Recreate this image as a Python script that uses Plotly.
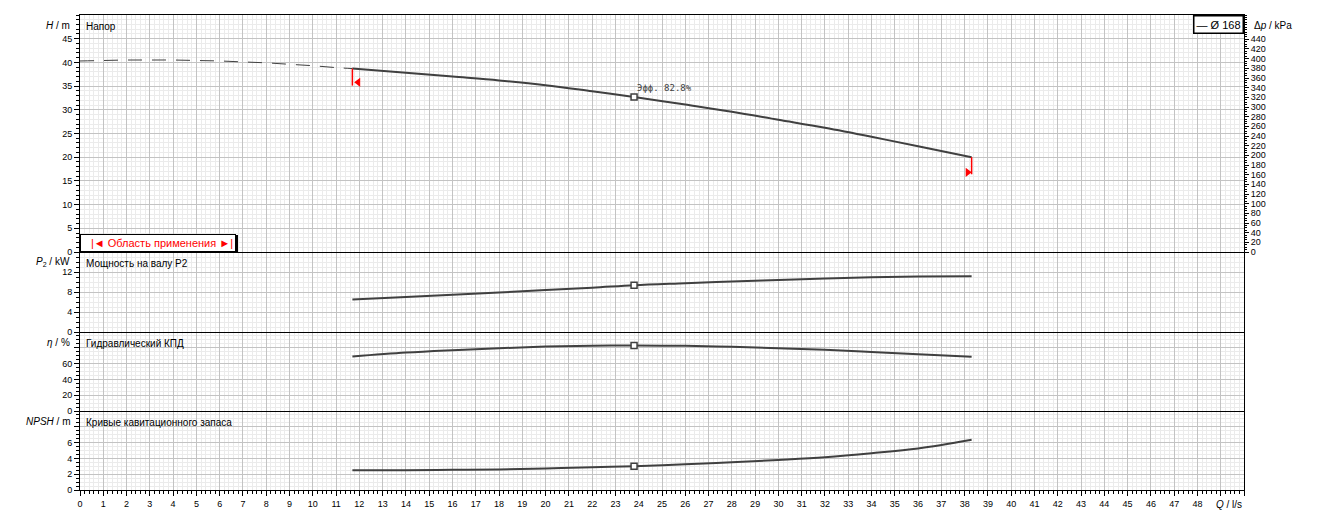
import plotly.graph_objects as go
from plotly.subplots import make_subplots

# ---------------- data ----------------
q_dash = [0, 1, 2, 3, 4, 5, 6, 7, 8, 9, 10, 11, 11.7]
h_dash = [40.3, 40.4, 40.5, 40.5, 40.5, 40.4, 40.3, 40.1, 39.9, 39.6, 39.3, 38.9, 38.7]

q = [11.7, 14, 16, 18, 20, 22, 23.8, 26, 28, 30, 32, 34, 36, 38.3]
h = [38.7, 37.8, 37.0, 36.2, 35.2, 33.9, 32.7, 31.1, 29.6, 27.9, 26.2, 24.3, 22.3, 20.0]
p2 = [6.5, 7.0, 7.45, 7.9, 8.4, 8.85, 9.35, 9.75, 10.1, 10.4, 10.7, 10.95, 11.1, 11.15]
eta = [69, 74, 77, 79.5, 81.5, 82.6, 82.8, 82.5, 81.2, 79.5, 77.5, 74.8, 71.9, 68.8]
npsh = [2.5, 2.5, 2.55, 2.6, 2.72, 2.88, 3.0, 3.25, 3.5, 3.8, 4.15, 4.65, 5.25, 6.35]
bep_index = 6          # Q = 23.8 l/s, efficiency 82.8 %
bep_eff_text = "Эфф. 82.8%"

x_ticks = list(range(0, 51))
x_ticktext = [str(v) for v in range(0, 49)] + ["", ""]
h_ticks = list(range(0, 50, 5))
p_ticks = [0, 4, 8, 12, 16]
p_ticktext = ["0", "4", "8", "12", ""]
eta_ticks = [0, 20, 40, 60, 80, 100]
eta_ticktext = ["0", "20", "40", "60", "", ""]
npsh_ticks = [0, 2, 4, 6, 8, 10]
npsh_ticktext = ["0", "2", "4", "6", "", ""]
dp_ticks = list(range(0, 441, 20))
kpa_per_m = 9.80665

panel_titles = ["Напор", "Мощность на валу P2", "Гидравлический КПД", "Кривые кавитационного запаса"]
legend_text = "— Ø 168"
range_text = "|◄ Область применения ►|"

# ---------------- style ----------------
CURVE = "#404040"
MAJ = "#c3c3c3"
MIN = "#ebebeb"
FONT = "Liberation Sans, Arial, sans-serif"
TICKFONT = dict(family=FONT, size=9, color="black")

fig = make_subplots(rows=4, cols=1, shared_xaxes=True, vertical_spacing=0,
                    row_heights=[237, 80, 79, 79],
                    specs=[[{"secondary_y": True}], [{}], [{}], [{}]])

# H dashed + solid
fig.add_trace(go.Scatter(x=q_dash, y=h_dash, mode="lines",
                         line=dict(color=CURVE, width=1, dash="14px,10px", shape="spline"),
                         hoverinfo="skip", showlegend=False), row=1, col=1)
fig.add_trace(go.Scatter(x=[], y=[], showlegend=False, hoverinfo="skip"),
              row=1, col=1, secondary_y=True)

series = [h, p2, eta, npsh]
rows = [1, 2, 3, 4]
for s, r in zip(series, rows):
    fig.add_trace(go.Scatter(x=q, y=s, mode="lines",
                             line=dict(color=CURVE, width=2, shape="spline", smoothing=1),
                             hoverinfo="skip", showlegend=False), row=r, col=1)
    fig.add_trace(go.Scatter(x=[q[bep_index]], y=[s[bep_index]], mode="markers",
                             marker=dict(symbol="square", size=6, color="white",
                                         line=dict(color=CURVE, width=1.5)),
                             hoverinfo="skip", showlegend=False), row=r, col=1)

# red application range limits
mark_len = 3.6
fig.add_trace(go.Scatter(x=[q[0], q[0]], y=[h[0], h[0] - mark_len], mode="lines",
                         line=dict(color="red", width=1.5), hoverinfo="skip",
                         showlegend=False), row=1, col=1)
fig.add_trace(go.Scatter(x=[q[-1], q[-1]], y=[h[-1], h[-1] - mark_len], mode="lines",
                         line=dict(color="red", width=1.5), hoverinfo="skip",
                         showlegend=False), row=1, col=1)
fig.add_trace(go.Scatter(x=[q[0] + 0.25], y=[h[0] - 2.9], mode="markers",
                         marker=dict(symbol="triangle-left", size=8, color="red"),
                         hoverinfo="skip", showlegend=False), row=1, col=1)
fig.add_trace(go.Scatter(x=[q[-1] - 0.17], y=[h[-1] - 3.2], mode="markers",
                         marker=dict(symbol="triangle-right", size=8, color="red"),
                         hoverinfo="skip", showlegend=False), row=1, col=1)

# ---------------- axes ----------------
for i in range(1, 5):
    xa = dict(domain=[0, 1], range=[0, 50], tickmode="array", tickvals=x_ticks,
              ticktext=x_ticktext, showgrid=True, gridcolor=MAJ, gridwidth=1,
              zeroline=False,
              minor=dict(dtick=0.2, tick0=0, showgrid=True, gridcolor=MIN, gridwidth=1),
              showline=True, linecolor="black", linewidth=1, mirror=(i == 1))
    if i == 4:
        xa.update(ticks="outside", ticklen=5, tickcolor="black", tickfont=TICKFONT,
                  showticklabels=True)
        xa["minor"].update(ticks="outside", ticklen=3, tickcolor="black")
    else:
        xa.update(ticks="", showticklabels=False)
        xa["minor"].update(ticks="")
    fig.update_xaxes(row=i, col=1, **xa)

def yaxis(rng, tv, tt, mdt):
    return dict(range=rng, tickmode="array", tickvals=tv, ticktext=tt,
                showgrid=True, gridcolor=MAJ, gridwidth=1, zeroline=False,
                ticks="outside", ticklen=5, tickcolor="black", tickfont=TICKFONT,
                minor=dict(dtick=mdt, tick0=0, showgrid=True, gridcolor=MIN, gridwidth=1,
                           ticks="outside", ticklen=3, tickcolor="black"),
                showline=True, linecolor="black", linewidth=1, mirror=True)

fig.update_yaxes(row=1, col=1, secondary_y=False,
                 **yaxis([0, 50], h_ticks, [str(v) for v in h_ticks], 1))
fig.update_yaxes(row=2, col=1, **yaxis([0, 16], p_ticks, p_ticktext, 1))
fig.update_yaxes(row=3, col=1, **yaxis([0, 100], eta_ticks, eta_ticktext, 5))
fig.update_yaxes(row=4, col=1, **yaxis([0, 10], npsh_ticks, npsh_ticktext, 0.5))
fig.update_yaxes(row=1, col=1, secondary_y=True,
                 range=[0, 50 * kpa_per_m], tickmode="array", tickvals=dp_ticks,
                 ticktext=[str(v) for v in dp_ticks], showgrid=False, zeroline=False,
                 ticks="outside", ticklen=4, tickcolor="black", tickfont=TICKFONT,
                 minor=dict(dtick=5, tick0=0, ticks="outside", ticklen=2,
                            tickcolor="black", showgrid=False),
                 showline=True, linecolor="black", linewidth=1)

# solid black panel separators (drawn on top of the grids, pixel aligned)
shapes = []
for d in ["y3", "y4", "y5"]:
    shapes.append(dict(type="line", xref="paper", x0=0, x1=1, yref=d + " domain",
                       ysizemode="pixel", yanchor=1, y0=-0.5, y1=-0.5,
                       line=dict(color="black", width=1), layer="above"))

# ---------------- annotations ----------------
ann = []
doms = ["y", "y3", "y4", "y5"]
for t, d in zip(panel_titles, doms):
    ann.append(dict(text=t, xref="paper", x=0, xanchor="left", xshift=4,
                    yref=d + " domain", y=1, yanchor="top", yshift=-4,
                    showarrow=False, font=dict(family=FONT, size=10, color="black")))

axis_titles = ["<i>H</i> / m", "<i>P</i><sub>2</sub> / kW", "<i>η</i> / %", "<i>NPSH</i> / m"]
for t, d in zip(axis_titles, doms):
    ann.append(dict(text=t, xref="paper", x=0, xanchor="right", xshift=-8,
                    yref=d + " domain", y=1, yanchor="middle", yshift=-10,
                    showarrow=False, font=dict(family=FONT, size=10, color="black")))

ann.append(dict(text="Δ<i>p</i> / kPa", xref="paper", x=1, xanchor="left", xshift=8,
                yref="y domain", y=1, yanchor="middle", yshift=-10, showarrow=False,
                font=dict(family=FONT, size=10, color="black")))
ann.append(dict(text="<i>Q</i> / l/s", xref="paper", x=1, xanchor="right", xshift=0,
                yref="y5 domain", y=0, yanchor="middle", yshift=-14, showarrow=False,
                font=dict(family=FONT, size=10, color="black")))

ann.append(dict(text=bep_eff_text, xref="x", x=q[bep_index], xanchor="left", xshift=1,
                yref="y", y=h[bep_index], yanchor="bottom", yshift=2, showarrow=False,
                font=dict(family="DejaVu Sans Mono, monospace", size=9, color=CURVE)))

# legend box
ann.append(dict(text=legend_text, xref="paper", x=1, xanchor="right",
                yref="y domain", y=1, yanchor="top", showarrow=False,
                bgcolor="white", bordercolor="black", borderwidth=1.5, borderpad=2,
                font=dict(family=FONT, size=11, color="black")))

# application range box (shadow + box)
ann.append(dict(text=range_text, xref="paper", x=0, xanchor="left", xshift=2,
                yref="y domain", y=0, yanchor="bottom", yshift=-1, showarrow=False,
                bgcolor="black", bordercolor="black", borderwidth=1, borderpad=2,
                width=150, align="right", font=dict(family=FONT, size=11, color="black")))
ann.append(dict(text=range_text, xref="paper", x=0, xanchor="left", xshift=0,
                yref="y domain", y=0, yanchor="bottom", yshift=0, showarrow=False,
                bgcolor="white", bordercolor="black", borderwidth=1, borderpad=2,
                width=150, align="right", font=dict(family=FONT, size=11, color="red")))

fig.update_layout(width=1323, height=522, margin=dict(l=80, r=79, t=15, b=32),
                  paper_bgcolor="white", plot_bgcolor="white", annotations=ann,
                  shapes=shapes, showlegend=False,
                  font=dict(family=FONT, size=10, color="black"))

fig.write_html("out.html", config={"displayModeBar": False},
               post_script="document.body.style.margin='0';")
